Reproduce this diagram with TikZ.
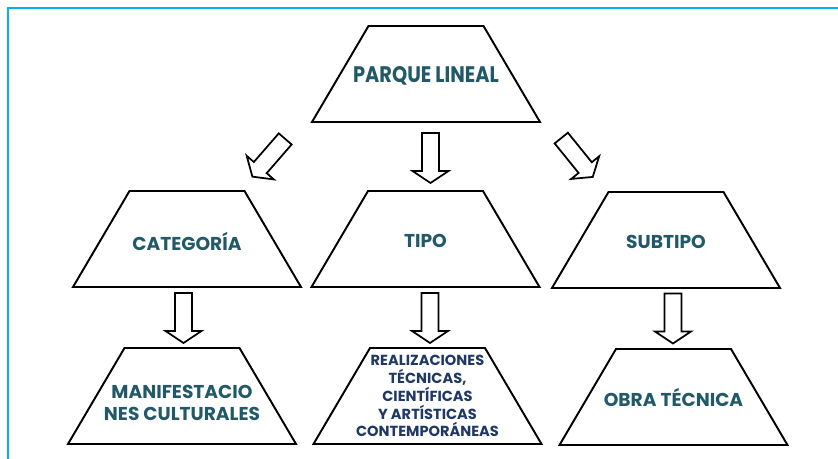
\documentclass[tikz,border=0pt]{standalone}
\usepackage{fontspec}
\setmainfont{Poppins}
\newfontfamily\narrowfont{Poppins}[FakeStretch=0.86]

\definecolor{frameblue}{HTML}{00B0F0}
\definecolor{tealtext}{HTML}{215968}
\definecolor{navytext}{HTML}{1F3864}

\tikzset{
  level/.style={inner sep=0pt, align=center, text=tealtext,
    font=\fontsize{10.6}{13}\selectfont\bfseries},
  trapline/.style={line width=1.1pt, line join=miter},
  blockarrow/.pic={
    \draw [line width=1pt] (-25, -8.5) -- (13, -8.5) -- (13, -18) -- (25, 0)
      -- (13, 18) -- (13, 8.5) -- (-25, 8.5) -- cycle;
  }
}

\begin{document}
\begin{tikzpicture}[x=0.02cm, y=-0.02cm]
  \useasboundingbox (0, 0) rectangle (838, 459);

  % Frame
  \draw [frameblue, line width=1.3pt] (8, 8) rectangle (870, 490);

  % Top
  \node [level, font=\fontsize{12.8}{14}\narrowfont\bfseries] (parque) at (426, 76)
    {PARQUE LINEAL};

  % Second row
  \node [level] (categoria) at (187, 241) {CATEGORÍA};
  \node [level] (tipo) at (425.5, 241) {TIPO};
  \node [level] (subtipo) at (666, 242) {SUBTIPO};

  % Third row
  \node [level] (manif) at (182, 403) {MANIFESTACIO\\NES CULTURALES};
  \node [level, text=navytext, font=\fontsize{8.3}{10.2}\selectfont\bfseries] (realiz)
    at (427.5, 396)
    {REALIZACIONES\\TÉCNICAS,\\CIENTÍFICAS\\Y ARTÍSTICAS\\CONTEMPORÁNEAS};
  \node [level] (obra) at (673.5, 397) {OBRA TÉCNICA};

  % Trapezia round the texts
  \foreach \x/\y in {426/74, 187/239, 425.5/239, 666/240,
                     182/396, 427.5/396, 673.5/397}
    \draw [trapline] (\x - 57.5, \y - 48) -- ++(115, 0) -- ++(56.5, 96)
      -- ++(-228, 0) -- cycle;

  % Arrows
  \pic [rotate=229] at (268.8, 157.8) {blockarrow};
  \pic [rotate=-90] at (430.5, 158) {blockarrow};
  \pic [rotate=309] at (577, 157.5) {blockarrow};
  \pic [rotate=-90] at (183.5, 318) {blockarrow};
  \pic [rotate=-90] at (430, 318) {blockarrow};
  \pic [rotate=-90] at (673, 318.5) {blockarrow};
\end{tikzpicture}
\end{document}
